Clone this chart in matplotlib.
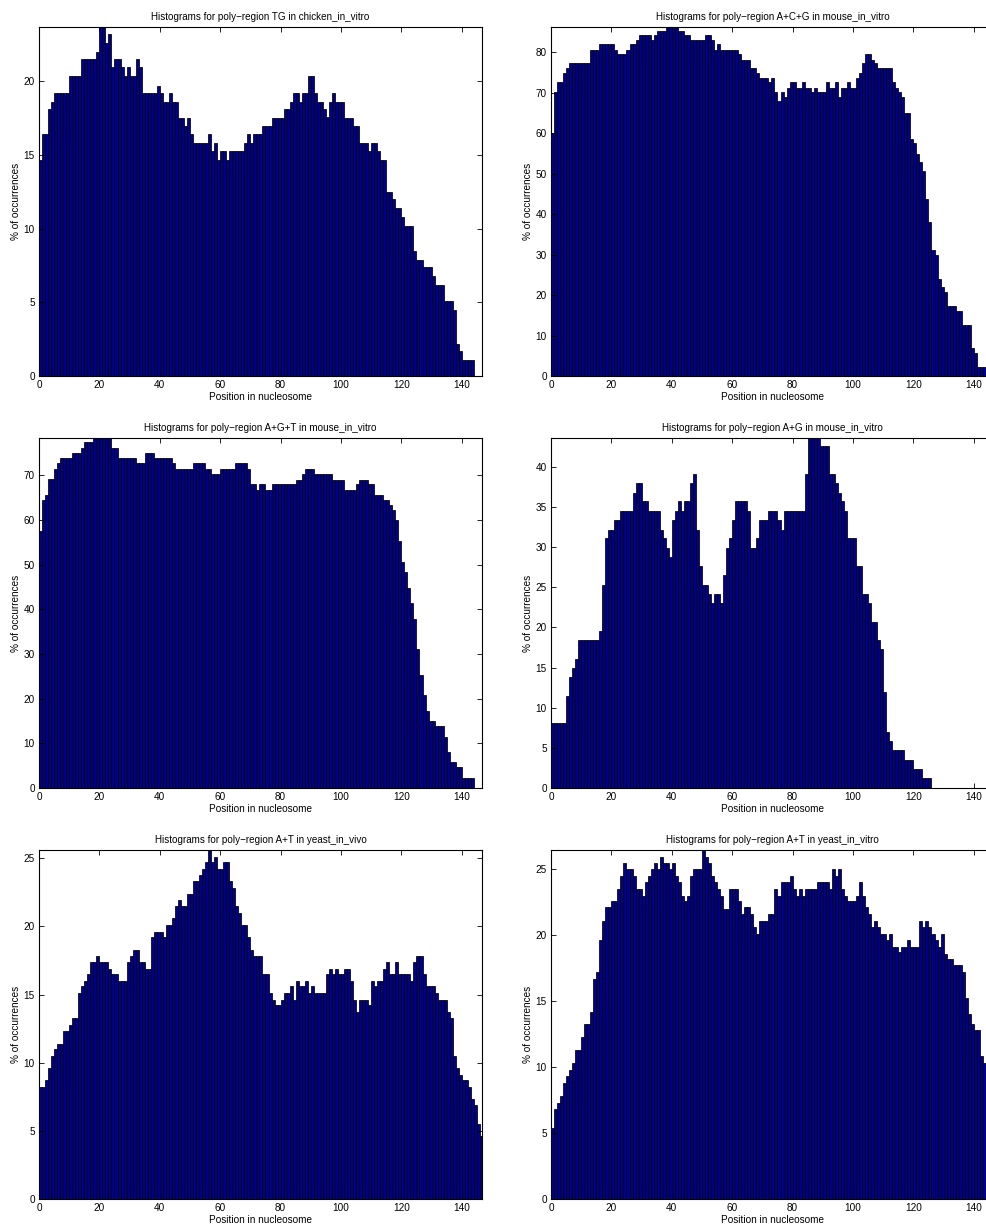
import numpy as np
import matplotlib
matplotlib.use("Agg")
import matplotlib.pyplot as plt
from matplotlib.ticker import MultipleLocator

plt.rcParams['font.family'] = ['Liberation Sans', 'DejaVu Sans']

# % of occurrences per position in nucleosome (one value per position)
tg_chicken_vitro = [
    14.7, 16.4, 16.4, 18.1, 18.6, 19.2, 19.2, 19.2, 19.2, 19.2,
    20.4, 20.4, 20.4, 20.4, 21.5, 21.5, 21.5, 21.5, 21.5, 22.0,
    23.7, 23.7, 22.6, 23.2, 21.0, 21.5, 21.5, 21.0, 20.4, 21.0,
    20.4, 20.4, 21.5, 21.0, 19.2, 19.2, 19.2, 19.2, 19.2, 19.7,
    19.2, 18.6, 18.6, 19.2, 18.6, 18.6, 17.5, 17.5, 17.0, 17.5,
    16.4, 15.8, 15.8, 15.8, 15.8, 15.8, 16.4, 15.3, 15.8, 14.7,
    15.3, 15.3, 14.7, 15.3, 15.3, 15.3, 15.3, 15.3, 15.8, 16.4,
    15.8, 16.4, 16.4, 16.4, 17.0, 17.0, 17.0, 17.5, 17.5, 17.5,
    17.5, 18.1, 18.1, 18.6, 19.2, 19.2, 18.6, 19.2, 19.2, 20.4,
    20.4, 19.2, 18.6, 18.6, 18.1, 17.6, 18.6, 19.2, 18.6, 18.6,
    18.6, 17.5, 17.5, 17.5, 17.0, 17.0, 15.8, 15.8, 15.8, 15.3,
    15.8, 15.8, 15.3, 14.7, 14.7, 12.5, 12.5, 12.0, 11.4, 11.4,
    10.8, 10.2, 10.2, 10.2, 8.5, 7.9, 7.9, 7.4, 7.4, 7.4,
    6.8, 6.2, 6.2, 6.2, 5.1, 5.1, 5.1, 4.5, 2.2, 1.7,
    1.1, 1.1, 1.1, 1.1, 0, 0, 0]

acg_mouse_vitro = [
    60.1, 70.3, 72.6, 72.6, 75.0, 76.1, 77.3, 77.3, 77.3, 77.3,
    77.3, 77.3, 77.3, 80.7, 80.7, 80.7, 82.0, 82.0, 82.0, 82.0,
    82.0, 80.7, 79.6, 79.6, 79.6, 80.7, 82.0, 82.0, 83.0, 84.2,
    84.2, 84.2, 84.2, 83.0, 84.2, 85.3, 85.3, 85.3, 86.3, 86.3,
    86.3, 86.3, 85.3, 85.3, 84.2, 84.2, 83.0, 83.0, 83.0, 83.0,
    83.0, 84.2, 84.2, 83.0, 80.7, 82.0, 80.7, 80.7, 80.7, 80.7,
    80.7, 80.7, 79.6, 78.2, 78.2, 78.2, 76.1, 76.1, 75.0, 73.7,
    73.7, 73.7, 72.6, 73.7, 70.3, 67.9, 70.3, 69.1, 71.3, 72.6,
    72.6, 71.3, 71.3, 72.6, 71.3, 71.3, 70.2, 71.3, 70.2, 70.2,
    70.2, 72.6, 71.3, 71.3, 72.6, 69.1, 71.3, 71.3, 72.6, 71.3,
    71.3, 73.7, 75.0, 77.3, 79.6, 79.6, 78.2, 77.3, 76.1, 76.1,
    76.1, 76.1, 76.1, 72.6, 71.3, 70.2, 69.1, 65.0, 65.0, 58.7,
    57.5, 55.0, 53.0, 50.7, 43.7, 38.1, 31.1, 29.9, 24.1, 21.9,
    20.7, 17.3, 17.3, 17.3, 16.1, 16.1, 12.6, 12.6, 12.6, 6.9,
    5.8, 2.3, 2.3, 2.3, 2.3]

agt_mouse_vitro = [
    57.5, 64.5, 65.6, 69.1, 69.1, 71.4, 72.6, 73.8, 73.8, 73.8,
    73.8, 75.0, 75.0, 75.0, 76.1, 77.3, 77.3, 77.3, 78.3, 78.3,
    78.3, 78.3, 78.3, 78.3, 76.1, 76.1, 73.8, 73.8, 73.8, 73.8,
    73.8, 73.8, 72.6, 72.6, 72.6, 75.0, 75.0, 75.0, 73.8, 73.8,
    73.8, 73.8, 73.8, 73.8, 72.6, 71.4, 71.4, 71.4, 71.4, 71.4,
    71.4, 72.6, 72.6, 72.6, 72.6, 71.4, 71.4, 70.2, 70.2, 70.2,
    71.4, 71.4, 71.4, 71.4, 71.4, 72.6, 72.6, 72.6, 72.6, 71.4,
    67.9, 67.9, 66.7, 67.9, 67.9, 66.7, 66.7, 67.9, 67.9, 67.9,
    67.9, 67.9, 67.9, 67.9, 67.9, 69.0, 69.0, 70.2, 71.4, 71.4,
    71.4, 70.2, 70.2, 70.2, 70.2, 70.2, 70.2, 69.0, 69.0, 69.0,
    69.0, 66.7, 66.7, 66.7, 66.7, 67.9, 69.0, 69.0, 69.0, 67.9,
    67.9, 65.6, 65.6, 65.6, 64.5, 64.5, 63.3, 62.1, 59.9, 55.3,
    50.6, 48.3, 44.8, 41.4, 37.9, 31.0, 25.3, 20.7, 17.2, 14.9,
    14.9, 13.8, 13.8, 13.8, 11.5, 8.0, 5.8, 5.8, 4.6, 4.6,
    2.3, 2.3, 2.3, 2.3, 0, 0, 0]

ag_mouse_vitro = [
    8.1, 8.1, 8.1, 8.1, 8.1, 11.5, 13.8, 15.0, 16.1, 18.4,
    18.4, 18.4, 18.4, 18.4, 18.4, 18.4, 19.6, 25.3, 31.1, 32.2,
    32.2, 33.4, 33.4, 34.5, 34.5, 34.5, 34.5, 36.8, 38.0, 38.0,
    35.7, 35.7, 34.5, 34.5, 34.5, 34.5, 32.2, 31.1, 29.9, 28.8,
    33.4, 34.5, 35.7, 34.5, 35.7, 35.7, 38.0, 39.1, 32.2, 27.6,
    25.3, 25.3, 24.2, 23.0, 24.2, 24.2, 23.0, 26.5, 29.9, 31.1,
    33.4, 35.7, 35.7, 35.7, 35.7, 34.5, 29.9, 29.9, 31.1, 33.4,
    33.4, 33.4, 34.5, 34.5, 34.5, 33.4, 32.2, 34.5, 34.5, 34.5,
    34.5, 34.5, 34.5, 34.5, 39.1, 43.6, 43.6, 43.6, 43.6, 42.6,
    42.6, 42.6, 39.1, 39.1, 38.0, 36.8, 35.7, 34.5, 31.1, 31.1,
    31.1, 27.6, 27.6, 24.2, 24.2, 23.0, 20.7, 20.7, 18.4, 17.3,
    11.9, 7.0, 5.9, 4.7, 4.7, 4.7, 4.7, 3.5, 3.5, 3.5,
    2.4, 2.4, 2.4, 1.2, 1.2, 1.2, 0, 0, 0, 0,
    0, 0, 0, 0, 0, 0, 0, 0, 0, 0,
    0, 0, 0, 0, 0]

at_yeast_vivo = [
    8.2, 8.2, 8.7, 9.6, 10.5, 11.0, 11.4, 11.4, 12.3, 12.3,
    12.8, 13.3, 13.3, 15.1, 15.6, 16.0, 16.5, 17.4, 17.4, 17.8,
    17.4, 17.4, 17.4, 16.9, 16.5, 16.5, 16.0, 16.0, 16.0, 17.4,
    17.8, 18.3, 18.3, 17.4, 17.4, 16.9, 16.9, 19.2, 19.6, 19.6,
    19.6, 19.2, 20.1, 20.1, 20.6, 21.5, 21.9, 21.5, 21.5, 22.4,
    22.4, 23.3, 23.3, 23.8, 24.2, 24.7, 25.6, 24.7, 25.1, 24.2,
    24.2, 24.7, 24.7, 23.3, 22.8, 21.5, 21.0, 20.1, 20.1, 19.2,
    18.3, 17.8, 17.8, 17.8, 16.5, 16.5, 15.1, 14.6, 14.2, 14.2,
    14.6, 15.1, 15.1, 15.6, 14.6, 16.0, 15.6, 15.6, 16.0, 15.1,
    15.6, 15.1, 15.1, 15.1, 15.1, 16.5, 16.9, 16.5, 16.9, 16.5,
    16.5, 16.9, 16.9, 16.0, 14.6, 13.7, 14.6, 14.6, 14.6, 14.2,
    16.0, 15.6, 16.0, 16.0, 16.9, 17.4, 16.5, 16.5, 17.4, 16.5,
    16.5, 16.5, 16.5, 16.0, 17.4, 17.8, 17.8, 16.5, 15.6, 15.6,
    15.6, 15.1, 14.6, 14.6, 14.6, 13.7, 13.3, 10.5, 9.6, 9.1,
    8.7, 8.7, 8.2, 7.3, 6.9, 5.5, 4.6]

at_yeast_vitro = [
    5.4, 6.8, 7.3, 7.8, 8.8, 9.3, 9.8, 10.3, 11.3, 11.3,
    12.3, 13.3, 13.3, 14.2, 16.7, 17.2, 19.6, 21.1, 22.1, 22.1,
    22.6, 22.6, 23.5, 24.5, 25.5, 25.0, 25.0, 24.5, 23.5, 23.5,
    23.0, 24.0, 24.5, 25.0, 25.5, 25.0, 25.9, 25.5, 25.5, 25.0,
    25.5, 24.5, 24.0, 23.0, 22.6, 23.0, 24.5, 25.0, 25.0, 25.0,
    26.45, 25.9, 25.5, 24.5, 24.0, 23.5, 23.0, 22.0, 22.0, 23.5,
    23.5, 23.5, 22.6, 21.6, 22.1, 22.1, 21.6, 20.6, 20.1, 21.1,
    21.1, 21.1, 21.6, 21.6, 23.5, 23.0, 24.0, 24.0, 24.0, 24.5,
    23.5, 23.0, 23.5, 23.0, 23.5, 23.5, 23.5, 23.5, 24.0, 24.0,
    24.0, 24.0, 23.5, 25.0, 24.5, 25.0, 23.5, 23.0, 22.6, 22.6,
    22.6, 23.0, 24.0, 23.0, 22.1, 21.6, 20.6, 21.1, 20.6, 20.1,
    20.1, 19.6, 20.1, 19.1, 19.1, 18.7, 19.1, 19.1, 19.6, 19.1,
    19.1, 19.1, 21.1, 20.6, 21.1, 20.6, 20.1, 19.6, 19.1, 20.1,
    18.6, 18.2, 18.2, 17.7, 17.7, 17.7, 17.2, 15.2, 14.0, 13.3,
    12.8, 12.8, 10.8, 10.3, 10.3]

titles = [
    "Histograms for poly\u2212region TG in chicken_in_vitro",
    "Histograms for poly\u2212region A+C+G in mouse_in_vitro",
    "Histograms for poly\u2212region A+G+T in mouse_in_vitro",
    "Histograms for poly\u2212region A+G in mouse_in_vitro",
    "Histograms for poly\u2212region A+T in yeast_in_vivo",
    "Histograms for poly\u2212region A+T in yeast_in_vitro",
]
series = [tg_chicken_vitro, acg_mouse_vitro, agt_mouse_vitro,
          ag_mouse_vitro, at_yeast_vivo, at_yeast_vitro]
y_steps = [5, 10, 10, 5, 5, 5]

W, H = 987, 1225
fig = plt.figure(figsize=(W / 100, H / 100), dpi=100)

# axes boxes in pixels: left, top, right, bottom
lefts = [39, 551]
rows = [(27, 376), (438, 788), (850, 1199)]
ax_w = 443

for k, (vals, title, step) in enumerate(zip(series, titles, y_steps)):
    r, c = divmod(k, 2)
    top, bot = rows[r]
    ax = fig.add_axes([lefts[c] / W, 1 - bot / H, ax_w / W, (bot - top) / H])
    vals = np.array(vals)
    ax.bar(np.arange(len(vals)), vals, width=1, align='edge',
           color='#00008f', edgecolor='black', linewidth=0.55)
    ax.set_xlim(0, 146.7)
    ax.set_ylim(0, vals.max())
    ax.set_xticks(range(0, 141, 20))
    ax.yaxis.set_major_locator(MultipleLocator(step))
    ax.tick_params(direction='in', top=True, right=True, length=3.5,
                   width=0.6, labelsize=7.2)
    ax.tick_params(axis='x', pad=3)
    ax.tick_params(axis='y', pad=3)
    for s in ax.spines.values():
        s.set_linewidth(0.8)
    ax.set_title(title, fontsize=7.1, pad=5)
    ax.set_xlabel("Position in nucleosome", fontsize=7.2, labelpad=1.5)
    ax.set_ylabel("% of occurrences", fontsize=7.2, labelpad=2)

fig.savefig("out.png", dpi=100)
